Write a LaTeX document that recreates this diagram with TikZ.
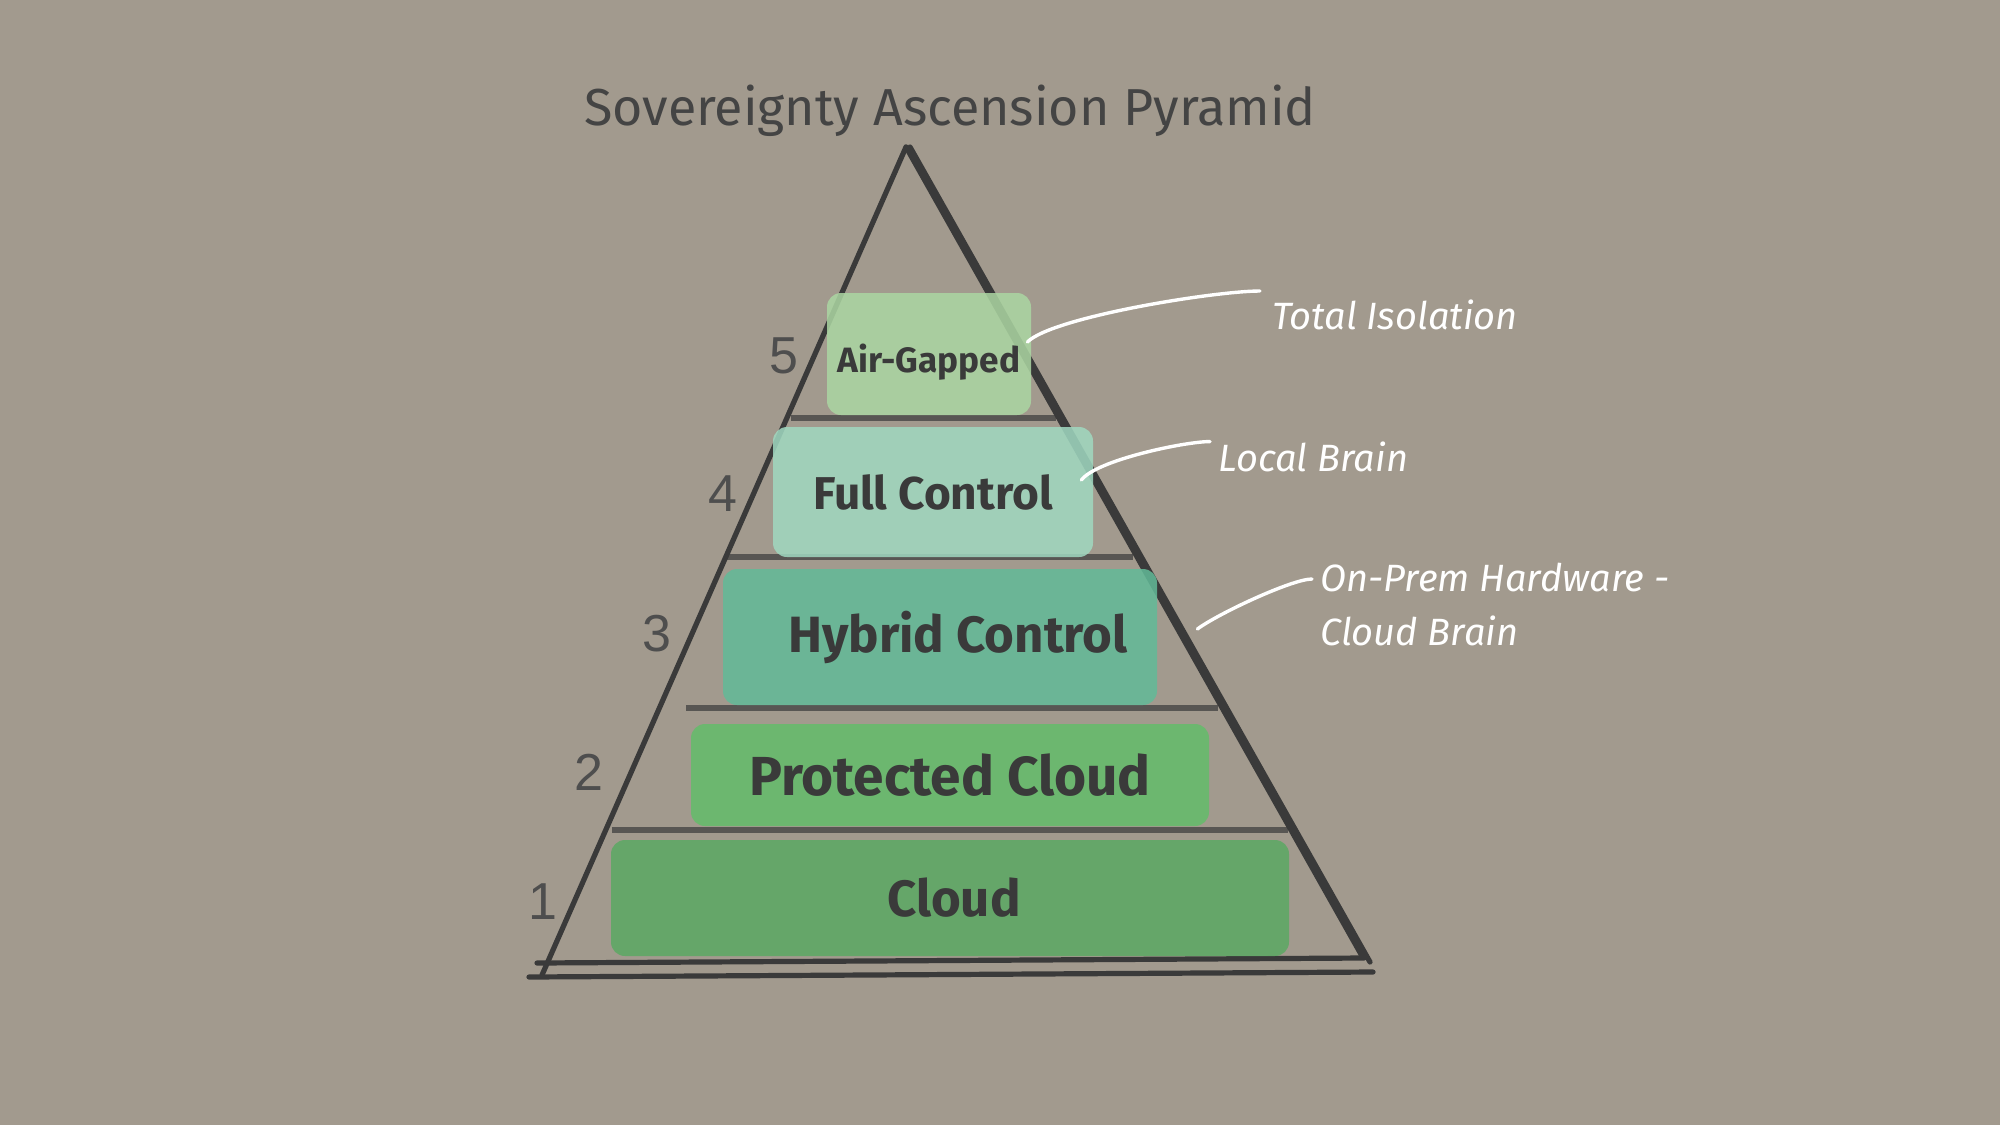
\documentclass[tikz,border=0pt]{standalone}
\usepackage{fontspec}
\setmainfont{Fira Sans}
\newfontfamily\numfont{Liberation Sans}
\usetikzlibrary{positioning}
\definecolor{paper}{HTML}{A29A8E}
\definecolor{ink}{HTML}{3A3A3A}
\definecolor{airgreen}{HTML}{ABD6A2}
\definecolor{fullgreen}{HTML}{A0D8C0}
\definecolor{hybridgreen}{HTML}{62BA98}
\definecolor{protgreen}{HTML}{64BC6A}
\definecolor{cloudgreen}{HTML}{5CA863}

\tikzset{
  edgeline/.style={draw=ink, line width=2.6pt, line cap=round},
  divider/.style={draw=ink, draw opacity=0.7, line width=3.2pt},
  layerbox/.style={rounded corners=7pt, fill opacity=0.86, text opacity=1,
                   text=ink, inner sep=0pt, font=\bfseries},
  levelnum/.style={text=ink!90, font=\numfont\fontsize{26}{30}\selectfont},
  note/.style={text=white, anchor=west, inner sep=0pt, align=left,
               font=\itshape\fontsize{19}{27}\selectfont},
  noteline/.style={draw=white, line width=1.7pt, line cap=round}
}

\begin{document}
\begin{tikzpicture}[x=0.5pt, y=-0.5pt]
  \fill[paper] (0,0) rectangle (2000,1125);
  \useasboundingbox (0,0) rectangle (2000,1125);

  \node[text=ink!95, font=\fontsize{26}{31}\selectfont] (title) at (950,111)
    {Sovereignty Ascension Pyramid};

  % pyramid outline
  \coordinate (apex) at (906,147);
  \coordinate (bl) at (542,975);
  \coordinate (br) at (1362,956);
  \draw[edgeline] (apex) -- (bl);
  \draw[edgeline] (apex) -- (br);
  \draw[edgeline] ([xshift=2pt]apex) -- (1370,962);
  \draw[edgeline] (537,963) -- (1364,958);
  \draw[edgeline] (529,977) -- (1373,972);

  % layer dividers
  \draw[divider] (791,418) -- (1056,418);
  \draw[divider] (724,557) -- (1133,557);
  \draw[divider] (686,708) -- (1218,708);
  \draw[divider] (612,830) -- (1288,830);

  % layers
  \node[layerbox, fill=airgreen, minimum width=102pt, minimum height=61pt,
        font=\bfseries\fontsize{17.6}{20}\selectfont] (air) at (929,354) {\raisebox{-4pt}[\height][\depth]{Air-Gapped}};
  \node[layerbox, fill=fullgreen, minimum width=160pt, minimum height=65pt,
        font=\bfseries\fontsize{23}{27}\selectfont] (full) at (933,492) {\raisebox{-1pt}{Full Control}};
  \node[layerbox, fill=hybridgreen, minimum width=217pt, minimum height=68pt,
        font=\bfseries\fontsize{25.5}{30}\selectfont] (hybrid) at (940,637) {\hspace{18pt}Hybrid Control};
  \node[layerbox, fill=protgreen, minimum width=259pt, minimum height=51pt,
        font=\bfseries\fontsize{27.5}{31}\selectfont] (prot) at (950,775) {Protected Cloud};
  \node[layerbox, fill=cloudgreen, minimum width=339pt, minimum height=58pt,
        font=\bfseries\fontsize{25.5}{30}\selectfont] (cloud) at (950,898) {\hspace{4pt}\raisebox{-2pt}{Cloud}};

  % level numbers
  \foreach \lvl/\px/\py in {5/784/356, 4/723/494, 3/657/634, 2/589/772, 1/543/902}
    \node[levelnum] (num\lvl) at (\px,\py) {\lvl};

  % notes
  \node[note] (iso) at (1272,315) {Total Isolation};
  \node[note] (local) at (1218,457) {Local Brain};
  \node[note] (onprem) at (1320,605) {On-Prem Hardware -\\Cloud Brain};

  \coordinate (hybridtip) at ([xshift=20pt, yshift=4pt]hybrid.east);
  \draw[noteline] ([xshift=-2pt, yshift=6pt]air.east)
    .. controls +(25,-25) and +(-45,0) .. ([xshift=-6pt, yshift=12pt]iso.west);
  \draw[noteline] ([xshift=-6pt, yshift=6pt]full.east)
    .. controls +(15,-20) and +(-25,0) .. ([xshift=-4pt]local.north west);
  \draw[noteline] (hybridtip)
    .. controls +(20,-15) and +(-20,0) .. ([xshift=-4pt, yshift=13pt]onprem.west);
\end{tikzpicture}
\end{document}
